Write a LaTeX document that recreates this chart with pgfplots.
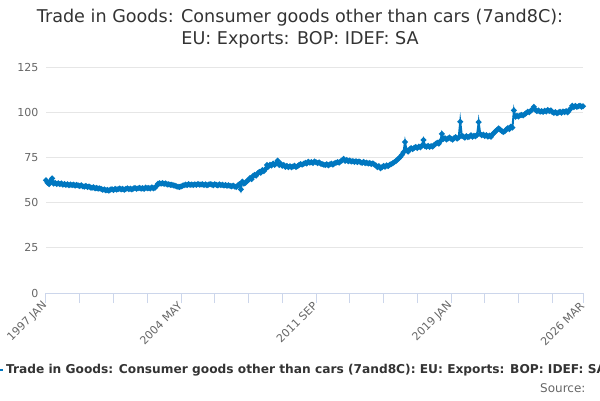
\documentclass[border=0pt]{standalone}
\usepackage{pgfplots}
\pgfplotsset{compat=1.18}
\usepackage{pgfplotstable}
\usepackage{fontspec}
\setmainfont{DejaVu Sans}
\definecolor{cline}{HTML}{0077C0}
\definecolor{ctitle}{HTML}{333333}
\definecolor{clab}{HTML}{666666}
\definecolor{cgrid}{HTML}{E6E6E6}
\definecolor{caxis}{HTML}{CCD6EB}
\pgfplotstableread{
v
62.3
61.0
60.2
62.0
63.4
60.5
60.9
60.3
60.7
60.2
60.6
59.9
60.3
59.8
60.2
59.6
60.0
59.7
59.9
59.4
59.8
59.5
59.2
59.6
59.0
58.8
59.2
58.6
58.9
58.4
58.2
58.5
57.9
58.1
57.7
57.9
57.5
57.1
57.3
56.8
57.0
56.6
57.2
57.4
56.9
57.6
57.2
57.5
57.8
57.3
57.6
57.1
57.5
57.9
57.4
57.7
57.3
57.8
58.1
57.6
57.9
58.2
57.7
58.0
57.6
58.3
57.9
58.1
57.8
58.4
57.9
58.2
59.2
60.4
60.7
60.5
60.8
60.3
60.6
60.0
60.2
59.8
59.9
59.5
59.4
59.0
58.8
58.6
58.9
59.3
59.6
60.0
59.7
60.2
59.8
60.0
59.7
60.1
59.8
60.3
59.9
60.0
60.2
59.7
60.1
59.6
59.9
60.2
60.0
59.6
60.2
59.8
59.5
60.1
59.7
59.9
59.4
59.8
59.3
59.6
59.2
59.0
59.4
58.9
58.6
59.5
60.2
57.3
61.6
60.5
61.0
62.0
62.5
63.6
63.0
64.8
65.3
64.9
66.2
67.0
66.5
68.0
67.4
68.5
70.8
69.9
71.0
70.5
71.6
70.9
71.7
73.2
70.8
71.5
70.4
70.8
69.8
70.3
69.6
70.1
69.5
70.0
70.4
69.7
70.2
70.9
71.3
71.0
71.5
72.0
71.6
72.6
72.1
72.4
71.9
72.8
72.3
71.8
72.2
71.6
71.3
71.0
70.8
71.2
70.6
71.1
71.5
71.0
71.7
72.0
72.4
72.1
72.8
73.4
74.2
73.1
73.6
72.9
73.3
72.7
73.0
72.5
72.9
72.4
72.8
72.3
72.0
72.5
71.8
72.1
71.6
71.9
71.4
71.7
71.0
70.6
69.6
70.2
69.0
69.5
70.3
69.8
70.6
70.2
70.9
71.3
71.8
72.4
72.9
73.8
74.5
75.3
76.5
77.8
83.5
79.0
78.2
79.5
80.1
79.6
80.3
80.8
80.2
81.0
80.6
81.5
84.6
81.2
80.9
81.4
80.8
81.3
81.0
81.8
82.5
83.1
82.6
84.0
88.0
85.2
85.6
84.9
85.5
86.0
85.3
84.8
85.6
86.2
85.4
86.0
94.7
87.0
86.5
85.9
86.8
86.2
86.5
87.2
86.4
87.0
86.7
87.5
94.5
88.0
87.2
87.6
86.8
87.3
86.5
87.0
86.4
87.8
88.5
89.5
90.2
91.0
90.3
89.6
89.0
89.4
90.5
91.2
90.6
92.0
91.5
101.0
97.5
98.0
97.6
98.3
98.5
98.2
98.9
99.5
100.3
100.0
100.8
101.5
103.0
101.2
100.6
101.0
100.3
100.6
100.2
100.8
100.4
101.2
100.6
101.0
100.1
99.6
100.0
99.4
99.8
100.2
99.7
100.4
100.0
100.6
99.9
101.0
102.0
103.6
102.8
103.5
102.9
103.3
103.6
103.0
103.3
}\datatable
\begin{document}
\begin{tikzpicture}[x=1pt,y=1pt]
\useasboundingbox (0,0) rectangle (600,400);
\node[text=ctitle, align=center, font=\fontsize{17.6}{22}\selectfont] at (300,371) {Trade in Goods: Consumer goods other than cars (7and8C):\\EU: Exports: BOP: IDEF: SA};
\node[text=clab, anchor=east, font=\fontsize{12}{14}\selectfont] at (589,12) {Source:};
\begin{axis}[
  at={(46pt,107pt)}, anchor=origin,
  scale only axis, width=537pt, height=226pt,
  xmin=0, xmax=350, ymin=0, ymax=125,
  axis x line*=bottom, axis y line*=left,
  x axis line style={draw=caxis, line width=1pt},
  y axis line style={draw=none},
  ymajorgrids, grid style={cgrid, line width=0.8pt},
  ytick={0,25,50,75,100,125},
  xtick={0,88,176,264,350},
  xticklabels={1997 JAN,2004 MAY,2011 SEP,2019 JAN,2026 MAR},
  minor xtick={22,44,66,110,132,154,198,220,242,286,308,330},
  tick align=outside, major tick length=10pt, minor tick length=10pt,
  xtick style={draw=caxis, line width=1pt},
  ytick style={draw=none},
  /pgf/number format/assume math mode=true,
  tick label style={text=clab, font=\fontsize{11}{13}\selectfont},
  xticklabel style={rotate=45, anchor=east, inner sep=1pt},
  yticklabel style={anchor=east, xshift=6pt},
  legend style={at={(-0.112,-0.34)}, anchor=west, draw=none, fill=none,
    font=\fontsize{12.2}{15}\selectfont\bfseries, text=ctitle, inner sep=0pt,
    /tikz/every even column/.append style={column sep=4pt}},
  legend image code/.code={\draw[cline, line width=2pt] (0pt,0pt) -- (16pt,0pt); \fill[cline] (8pt,0pt) circle (2pt);},
  clip=false,
]
\addplot[cline, line width=2pt, mark=*, mark size=1.7pt, mark options={fill=cline, draw=cline}]
  table[x expr=\coordindex, y=v] {\datatable};
\addlegendentry{Trade in Goods: Consumer goods other than cars (7and8C): EU: Exports: BOP: IDEF: SA}
\end{axis}
\end{tikzpicture}
\end{document}
